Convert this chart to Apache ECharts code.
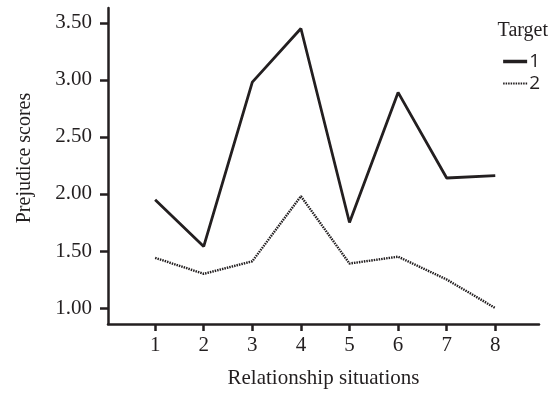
<!DOCTYPE html>
<html>
<head>
<meta charset="utf-8">
<script src="https://cdn.jsdelivr.net/npm/echarts@6/dist/echarts.min.js"></script>
<style>html,body{margin:0;padding:0;background:#fff}#c{width:556px;height:394px}</style>
</head>
<body>
<div id="c"></div>
<script>
var situations = [1, 2, 3, 4, 5, 6, 7, 8];
var target1 = [1.95, 1.54, 2.98, 3.45, 1.75, 2.89, 2.14, 2.16];
var target2 = [1.44, 1.30, 1.41, 1.98, 1.39, 1.45, 1.25, 1.00];
var yTicks = [1.0, 1.5, 2.0, 2.5, 3.0, 3.5];

var serif = '"Liberation Serif", "Times New Roman", serif';
var sans = '"Open Sans", "Noto Sans", sans-serif';
var ink = '#231f20';

var chart = echarts.init(document.getElementById('c'));
chart.setOption({
  animation: false,
  backgroundColor: '#fff',
  grid: { left: 108, right: 17, top: 8, bottom: 70, containLabel: false },
  xAxis: {
    type: 'value', min: 0.03, max: 8.9,
    name: 'Relationship situations', nameLocation: 'middle', nameGap: 44,
    nameTextStyle: { fontFamily: serif, fontSize: 21, color: ink },
    axisLine: { show: true, lineStyle: { color: ink, width: 2.5 } },
    axisTick: { show: true, length: 7, lineStyle: { color: ink, width: 2.5 }, customValues: situations },
    axisLabel: { fontFamily: serif, fontSize: 21, color: ink, margin: 11, customValues: situations },
    splitLine: { show: false }
  },
  yAxis: {
    type: 'value', min: 0.86, max: 3.63,
    name: 'Prejudice scores', nameLocation: 'middle', nameGap: 73, nameRotate: 90,
    nameTextStyle: { fontFamily: serif, fontSize: 20, color: ink, padding: [0, 0, 0, 16] },
    axisLine: { show: true, lineStyle: { color: ink, width: 2.5 } },
    axisTick: { show: true, length: 8, lineStyle: { color: ink, width: 2.5 }, customValues: yTicks },
    axisLabel: { fontFamily: serif, fontSize: 21, color: ink, margin: 16, customValues: yTicks,
      formatter: function (v) { return v.toFixed(2); } },
    splitLine: { show: false }
  },
  legend: {
    orient: 'vertical', right: 11, top: 47, itemGap: 3, itemWidth: 24, itemHeight: 14,
    textStyle: { fontFamily: sans, fontSize: 19, color: ink, padding: [0, 0, 0, -3] },
    itemStyle: { opacity: 0 },
    data: [{ name: '1', lineStyle: { width: 3.5 } }, { name: '2', lineStyle: { width: 2 } }]
  },
  graphic: [{
    type: 'text', right: 8, top: 21,
    style: { text: 'Target', font: '20px ' + serif, fill: ink }
  }],
  series: [{
    name: '1', type: 'line', symbol: 'none',
    data: situations.map(function (s, i) { return [s, target1[i]]; }),
    lineStyle: { color: ink, width: 2.8, type: 'solid' },
    itemStyle: { color: ink }
  }, {
    name: '2', type: 'line', symbol: 'none',
    data: situations.map(function (s, i) { return [s, target2[i]]; }),
    lineStyle: { color: ink, width: 2.4, type: [1.5, 1] },
    itemStyle: { color: ink }
  }]
});
</script>
</body>
</html>
